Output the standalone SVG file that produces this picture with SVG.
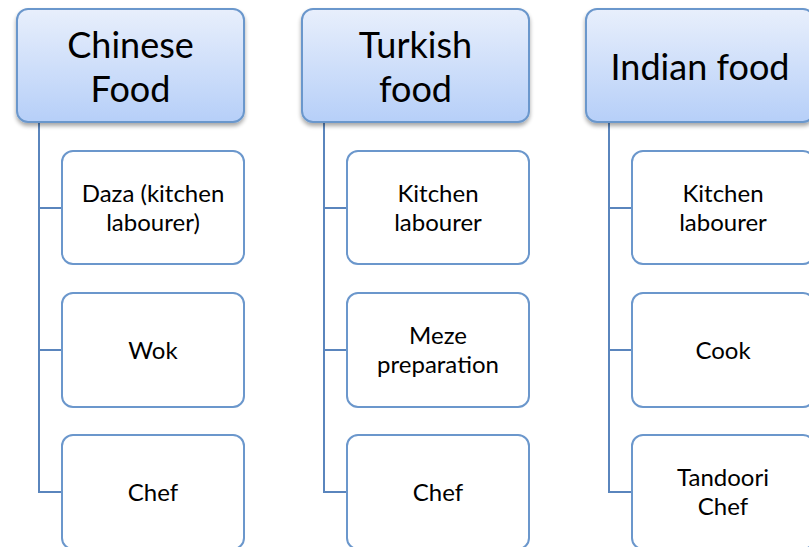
<svg xmlns="http://www.w3.org/2000/svg" width="809" height="547" viewBox="0 0 809 547">
<defs>
<linearGradient id="hg" x1="0" y1="0" x2="0" y2="1">
<stop offset="0" stop-color="#e8effc"/>
<stop offset="1" stop-color="#b6cff8"/>
</linearGradient>
<filter id="sh" x="-10%" y="-10%" width="120%" height="130%">
<feGaussianBlur in="SourceAlpha" stdDeviation="2"/>
<feOffset dy="3"/>
<feComponentTransfer><feFuncA type="linear" slope="0.35"/></feComponentTransfer>
<feMerge><feMergeNode/><feMergeNode in="SourceGraphic"/></feMerge>
</filter>
</defs>
<style>
.hd{fill:url(#hg);stroke:#6b97cc;stroke-width:2;filter:url(#sh)}
.ch{fill:#fff;stroke:#6b97cc;stroke-width:2}
.ln{fill:none;stroke:#5a85bd;stroke-width:2}
.ht{font-family:Lato,"Open Sans",sans-serif;font-size:36px;fill:#000;text-anchor:middle}
.ct{font-family:Lato,"Open Sans",sans-serif;font-size:24px;fill:#000;text-anchor:middle}
</style>
<rect width="809" height="547" fill="#fff"/>
<g id="connectors">
<path class="ln" d="M39,122V492H62M39,208H62M39,350H62"/>
<path class="ln" d="M324,122V492H347M324,208H347M324,350H347"/>
<path class="ln" d="M609,122V492H632M609,208H632M609,350H632"/>
</g>
<g id="chinese"><rect class="hd" x="17" y="9" width="227" height="113" rx="11"/><text class="ht" x="130.5" y="58">Chinese</text><text class="ht" x="130.5" y="102">Food</text></g>
<g id="turkish"><rect class="hd" x="302" y="9" width="227" height="113" rx="11"/><text class="ht" x="415.5" y="58">Turkish</text><text class="ht" x="415.5" y="102">food</text></g>
<g id="indian"><rect class="hd" x="586" y="9" width="228" height="113" rx="11"/><text class="ht" x="700" y="80">Indian food</text></g>
<g id="c1"><rect class="ch" x="62" y="151" width="182" height="113" rx="11"/><text class="ct" x="153" y="202">Daza (kitchen</text><text class="ct" x="153" y="231">labourer)</text></g>
<g id="c2"><rect class="ch" x="62" y="293" width="182" height="114" rx="11"/><text class="ct" x="153" y="359">Wok</text></g>
<g id="c3"><rect class="ch" x="62" y="435" width="182" height="114" rx="11"/><text class="ct" x="153" y="501">Chef</text></g>
<g id="t1"><rect class="ch" x="347" y="151" width="182" height="113" rx="11"/><text class="ct" x="438" y="202">Kitchen</text><text class="ct" x="438" y="231">labourer</text></g>
<g id="t2"><rect class="ch" x="347" y="293" width="182" height="114" rx="11"/><text class="ct" x="438" y="344">Meze</text><text class="ct" x="438" y="373">preparation</text></g>
<g id="t3"><rect class="ch" x="347" y="435" width="182" height="114" rx="11"/><text class="ct" x="438" y="501">Chef</text></g>
<g id="i1"><rect class="ch" x="632" y="151" width="182" height="113" rx="11"/><text class="ct" x="723" y="202">Kitchen</text><text class="ct" x="723" y="231">labourer</text></g>
<g id="i2"><rect class="ch" x="632" y="293" width="182" height="114" rx="11"/><text class="ct" x="723" y="359">Cook</text></g>
<g id="i3"><rect class="ch" x="632" y="435" width="182" height="114" rx="11"/><text class="ct" x="723" y="486">Tandoori</text><text class="ct" x="723" y="515">Chef</text></g>
</svg>
